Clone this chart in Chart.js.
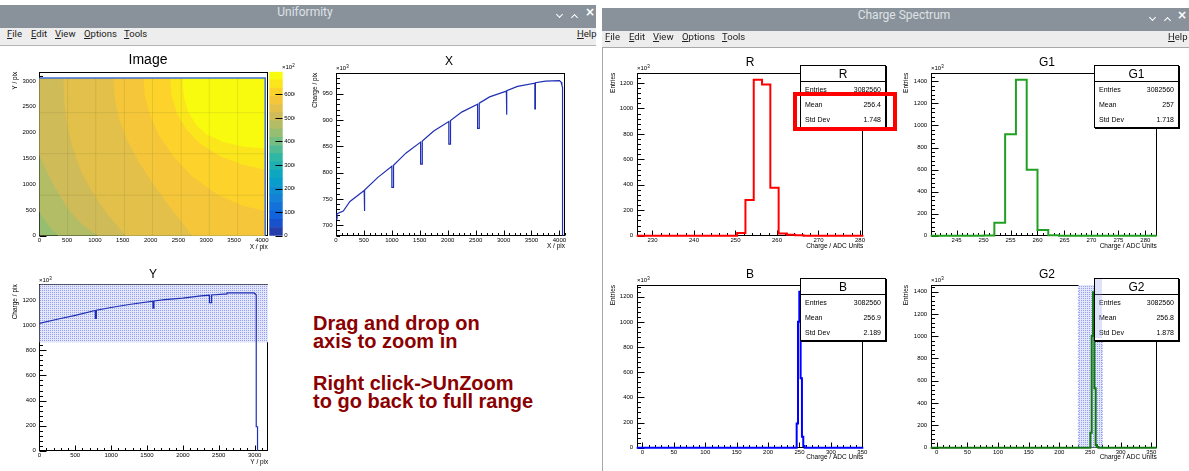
<!DOCTYPE html>
<html>
<head>
<meta charset="utf-8">
<title>Uniformity / Charge Spectrum</title>
<script src="https://cdn.jsdelivr.net/npm/chart.js@4.4.1/dist/chart.umd.min.js"></script>
<style>
  body { margin: 0; width: 1189px; height: 471px; overflow: hidden; background: #fff; position: relative;
         font-family: "Liberation Sans", Arial, sans-serif; }
  canvas { position: absolute; }
  .tb { position: absolute; height: 23px; background: #89929b; }
  .tt { position: absolute; top: 0; line-height: 23px; transform: translateX(-50%); font: 12px Roboto, sans-serif; color: #dfe2e6; white-space: nowrap; }
  .chev { position: absolute; width: 4px; height: 4px; border-right: 1.6px solid #fff; border-bottom: 1.6px solid #fff; }
  .chev.dn { top: 7px; transform: rotate(45deg); }
  .chev.up { top: 10px; transform: rotate(-135deg); }
  .cls { position: absolute; top: 0; line-height: 22px; font: bold 12px "DejaVu Sans", sans-serif; color: #fff; transform: translateX(-50%); }
  .mb { position: absolute; background: #ededed; border-bottom: 1px solid #b4b4b4; }
  .mb span { position: absolute; top: 0; font: 9.5px Roboto, sans-serif; color: #222; }
  .frame { position: absolute; border-left: 1px solid #a8a8a8; border-top: 1px solid #a8a8a8; box-sizing: border-box; }
  .ptitle { position: absolute; transform: translate(-50%, -50%); font-size: 12px; color: #000; white-space: nowrap; z-index: 5; }
  .expo { position: absolute; font-size: 6px; line-height: 6px; z-index: 5; white-space: nowrap; }
  .expo sup { font-size: 4.5px; vertical-align: 2.5px; line-height: 0; }
  .stats { position: absolute; background: #fff; border: 1px solid #000; box-sizing: border-box; z-index: 6;
           box-shadow: 1px 1px 0 #000; }
  .stats .st { height: 16px; line-height: 16px; text-align: center; font-size: 12px; border-bottom: 1px solid #000; box-sizing: border-box; }
  .stats .sr { height: 15px; line-height: 15px; font-size: 7px; display: flex; justify-content: space-between; padding: 0 4px; }
  .note { position: absolute; left: 313px; font: bold 20px/18px "Liberation Sans", Arial, sans-serif; color: #8b0000; white-space: nowrap; z-index: 5; }
</style>
</head>
<body>

<!-- left window -->
<div class="tb" style="left:0;top:5px;width:596px">
  <span class="tt" style="left:305px">Uniformity</span>
  <i class="chev dn" style="left:557px"></i><i class="chev up" style="left:572px"></i><span class="cls" style="left:590px">×</span>
</div>
<div class="mb" style="left:0;top:28px;width:596px;height:17px;line-height:17px">
  <span style="left:7px"><u>F</u>ile</span><span style="left:31px"><u>E</u>dit</span><span style="left:55px"><u>V</u>iew</span>
  <span style="left:84px"><u>O</u>ptions</span><span style="left:124px"><u>T</u>ools</span><span style="left:577px"><u>H</u>elp</span>
</div>

<!-- right window -->
<div class="tb" style="left:602px;top:8px;width:587px">
  <span class="tt" style="left:302px">Charge Spectrum</span>
  <i class="chev dn" style="left:548px"></i><i class="chev up" style="left:563px"></i><span class="cls" style="left:580px">×</span>
</div>
<div class="mb" style="left:602px;top:31px;width:587px;height:16px;line-height:16px">
  <span style="left:3px"><u>F</u>ile</span><span style="left:27px"><u>E</u>dit</span><span style="left:51px"><u>V</u>iew</span>
  <span style="left:80px"><u>O</u>ptions</span><span style="left:120px"><u>T</u>ools</span><span style="left:566px"><u>H</u>elp</span>
</div>
<div class="frame" style="left:602px;top:47px;width:587px;height:424px"></div>

<div class="ptitle" style="left:148px;top:59px;font-size:14px">Image</div>
<div class="ptitle" style="left:449px;top:61px">X</div>
<div class="ptitle" style="left:153px;top:274px">Y</div>
<div class="ptitle" style="left:750px;top:62px">R</div>
<div class="ptitle" style="left:1047px;top:62px">G1</div>
<div class="ptitle" style="left:750px;top:274px">B</div>
<div class="ptitle" style="left:1047px;top:274px">G2</div>

<div class="expo" style="left:282px;top:64px">×10<sup>2</sup></div>
<div class="expo" style="left:336px;top:65px">×10<sup>3</sup></div>
<div class="expo" style="left:39px;top:277px">×10<sup>3</sup></div>
<div class="expo" style="left:637px;top:65px">×10<sup>3</sup></div>
<div class="expo" style="left:931px;top:65px">×10<sup>3</sup></div>
<div class="expo" style="left:637px;top:277px">×10<sup>3</sup></div>
<div class="expo" style="left:931px;top:277px">×10<sup>3</sup></div>

<div class="note" style="top:314px">Drag and drop on<br>axis to zoom in</div>
<div class="note" style="top:374px">Right click-&gt;UnZoom<br>to go back to full range</div>

<script>
const FONT = '"Liberation Sans", Arial, sans-serif';
Chart.defaults.font.family = FONT;

// ---------- Uniformity: image (z in units of 10^2) ----------
const zMax = 6960;
const zTicks = [0, 1000, 2000, 3000, 4000, 5000, 6000];
const imgTicksX = [0, 500, 1000, 1500, 2000, 2500, 3000, 3500, 4000];
const imgTicksY = [0, 500, 1000, 1500, 2000, 2500, 3000];
const sensorW = 4060, sensorH = 3060;
// contour edges; the lowest band (level 12) fills the whole sensor
const band13 = [[0, 470], [60, 360], [130, 250], [230, 120], [340, 0], [4060, 0]];
const band14 = [[0, 1560], [120, 1280], [250, 1000], [400, 720], [550, 470], [800, 190], [1060, 0], [4060, 0]];
const band15 = [[430, 3060], [450, 2600], [500, 2150], [600, 1700], [750, 1250], [950, 850], [1200, 450], [1550, 0], [4060, 0]];
const band16 = [[1330, 3060], [1360, 2650], [1440, 2250], [1580, 1850], [1780, 1450], [2050, 1000], [2350, 550], [2750, 0], [4060, 0]];
const band17 = [[1870, 3060], [1900, 2700], [1990, 2350], [2150, 1950], [2400, 1550], [2750, 1150], [3200, 800], [3650, 580], [4060, 480]];
const band18 = [[2350, 3060], [2380, 2700], [2480, 2350], [2650, 2050], [2900, 1780], [3250, 1540], [3650, 1380], [4060, 1280]];
const band19 = [[2570, 3060], [2600, 2700], [2680, 2400], [2820, 2150], [3000, 1970], [3300, 1820], [3650, 1730], [4060, 1690]];
const bands = [band13, band14, band15, band16, band17, band18, band19];
const bandLevels = [13, 14, 15, 16, 17, 18, 19];
// columns and rows that show up darker in the image
const deadCols = [510, 1015, 1530, 2035, 2550, 3055, 3565];
const deadRows = [786, 1590, 2385];

// ---------- X projection (charge x10^3) ----------
const xProfX = [0, 20, 20, 130, 250, 505, 505, 515, 515, 750, 1000, 1000, 1030, 1030, 1250, 1515, 1515, 1545, 1545, 1750,
                2020, 2020, 2050, 2050, 2250, 2535, 2535, 2565, 2565, 2750, 3050, 3050, 3060, 3060, 3250, 3560, 3560, 3570, 3570,
                3750, 4000, 4030, 4045, 4056, 4056];
const xProfY = [712, 712, 722, 727, 745, 766, 727, 727, 767, 791, 812, 772, 772, 814, 837, 858, 816, 816, 860, 879,
                897, 854, 854, 899, 915, 930, 884, 884, 932, 944, 955, 910, 910, 956, 964, 970, 921, 921, 971,
                974, 975, 972, 966, 962, 680];
const xTicksY = [700, 750, 800, 850, 900, 950];

// ---------- Y projection (charge x10^3) ----------
const yProfX = [0, 250, 500, 780, 780, 795, 795, 1000, 1250, 1583, 1583, 1597, 1597, 1750, 2000, 2250, 2370, 2370, 2400, 2400,
                2615, 2615, 2800, 2990, 3015, 3022, 3022, 3040, 3040];
const yProfY = [1015, 1048, 1079, 1118, 1056, 1056, 1120, 1142, 1166, 1193, 1136, 1136, 1194, 1205, 1217, 1234, 1241, 1181, 1181, 1242,
                1250, 1258, 1259, 1258, 1248, 1240, 191, 191, 0];
const yTicksX = [0, 500, 1000, 1500, 2000, 2500, 3000];
const yTicksY = [0, 200, 400, 600, 800, 1000, 1200];
const ySelLow = 864;

// ---------- Charge spectra (entries x10^3), low edge of each bin ----------
const rEdges   = [226.2, 250.4, 252.4, 254.4, 256.4, 258.4, 260.4, 262.4, 264.4, 266.4, 280.8];
const rCounts  = [0, 22, 280, 1226, 1189, 377, 18, 8, 3, 0, 0];
const g1Edges  = [240.2, 250, 252, 254, 256, 258, 260, 262, 264, 282.1];
const g1Counts = [0, 2, 118, 920, 1415, 599, 51, 5, 0, 0];
const bEdges   = [-9, 245.5, 247.6, 249.7, 251.8, 253.9, 256, 258.1, 351.5];
const bCounts  = [0, 193, 1001, 1240, 551, 87, 13, 0, 0];
const g2Edges  = [-9.8, 250.5, 252.7, 254.9, 257.1, 259.2, 261.4, 263.5, 358.7];
const g2Counts = [0, 135, 1001, 1393, 532, 24, 6, 0, 0];
const g2Sel = [231, 270];
const rTicksX  = [230, 240, 250, 260, 270, 280];
const g1TicksX = [245, 250, 255, 260, 265, 270, 275, 280];
const wideTicksX = [0, 50, 100, 150, 200, 250, 300, 350];
const ticks1200 = [0, 200, 400, 600, 800, 1000, 1200];
const ticks1400 = [0, 200, 400, 600, 800, 1000, 1200, 1400];

const statNames = ['Entries', 'Mean', 'Std Dev'];
const rStats  = ['3082560', '256.4', '1.748'];
const g1Stats = ['3082560', '257', '1.718'];
const bStats  = ['3082560', '256.9', '2.189'];
const g2Stats = ['3082560', '256.8', '1.878'];

// ROOT "bird" palette
function palette(f) {
  const st = [0, .125, .25, .375, .5, .625, .75, .875, 1];
  const r = [.2082, .0592, .0780, .0232, .1802, .5301, .8186, .9956, .9764];
  const g = [.1664, .3599, .5041, .6419, .7178, .7492, .7328, .7862, .9832];
  const b = [.5293, .8684, .8385, .7914, .6425, .4662, .3499, .1968, .0539];
  f = Math.min(1, Math.max(0, f));
  let i = 0;
  while (i < 7 && f > st[i + 1]) i++;
  const t = (f - st[i]) / (st[i + 1] - st[i]);
  const c = a => Math.round(255 * (a[i] + t * (a[i + 1] - a[i])));
  return 'rgb(' + c(r) + ',' + c(g) + ',' + c(b) + ')';
}
const levelColor = k => palette((k + 0.99) / 20);

// light dotted fill used by ROOT for a zoom selection
function dotPattern() {
  const p = document.createElement('canvas');
  p.width = p.height = 2;
  const c = p.getContext('2d');
  c.fillStyle = '#e4e7fb';
  c.fillRect(0, 0, 2, 2);
  c.fillStyle = '#93a0f0';
  c.fillRect(0, 0, 1, 1);
  return c.createPattern(p, 'repeat');
}

// frame + inward ticks, ROOT style
function rootAxes(spec) {
  function draw(chart) {
    const {ctx, chartArea: a, scales} = chart;
    ctx.save();
    ctx.strokeStyle = '#000';
    ctx.lineWidth = 1;
    const L = Math.round(a.left) + 0.5, R = Math.round(a.right) - 0.5;
    const T = Math.round(a.top) + 0.5, B = Math.round(a.bottom) - 0.5;
    if (spec.frame !== false) ctx.strokeRect(L, T, R - L, B - T);
    ctx.beginPath();
    ['x', 'y'].forEach(id => {
      const ax = spec[id];
      if (!ax) return;
      const sc = scales[id];
      let v = ax.ticks[0] - Math.floor((ax.ticks[0] - sc.min) / ax.minor + 1e-9) * ax.minor;
      for (; v <= sc.max + 1e-9; v += ax.minor) {
        if (v < sc.min - 1e-9) continue;
        const major = ax.ticks.some(t => Math.abs(t - v) < ax.minor / 100);
        const len = major ? ax.len : ax.len / 2;
        const p = Math.round(sc.getPixelForValue(v)) + 0.5;
        if (id === 'x') { ctx.moveTo(p, B); ctx.lineTo(p, B - len); }
        else if (ax.side === 'right') { ctx.moveTo(R, p); ctx.lineTo(R - len, p); }
        else { ctx.moveTo(L, p); ctx.lineTo(L + len, p); }
      }
    });
    ctx.stroke();
    ctx.restore();
  }
  return {
    id: 'rootAxes',
    beforeDatasetsDraw(chart) { if (!spec.after) draw(chart); },
    afterDatasetsDraw(chart) { if (spec.after) draw(chart); }
  };
}

function linAxis(pos, min, max, ticks, size, title, tp) {
  const horiz = pos === 'bottom';
  return {
    type: 'linear', position: pos, min, max,
    grid: {display: false, drawTicks: false},
    border: {display: false},
    afterBuildTicks: s => { s.ticks = ticks.map(v => ({value: v})); },
    afterFit: s => {
      if (horiz) s.height = size; else s.width = size;
      s.paddingLeft = s.paddingRight = s.paddingTop = s.paddingBottom = 0;
    },
    ticks: {color: '#000', font: {size: 6}, padding: horiz ? 1 : 3.5, maxRotation: 0, minRotation: 0,
            autoSkip: false, callback: v => String(v)},
    title: {display: !!title, text: title, align: 'end', color: '#000', font: {size: 6.5},
            padding: horiz ? {top: 0, bottom: tp} : {top: tp, bottom: 0}}
  };
}

function newCanvas(box) {
  const cv = document.createElement('canvas');
  cv.width = box.w;
  cv.height = box.h;
  cv.style.left = box.x + 'px';
  cv.style.top = box.y + 'px';
  document.body.insertBefore(cv, document.body.firstChild);
  return cv;
}

function makePad(box, frame, o) {
  const cv = newCanvas(box);
  return new Chart(cv, {
    type: 'line',
    data: {datasets: o.datasets},
    options: {
      responsive: false, animation: false, events: [], devicePixelRatio: 1,
      layout: {padding: {left: 0, top: frame.t - box.y, right: box.x + box.w - frame.r, bottom: 0}},
      plugins: {legend: {display: false}, tooltip: {enabled: false}},
      elements: {point: {radius: 0}, line: {tension: 0}},
      scales: {
        x: linAxis('bottom', o.x[0], o.x[1], o.xt, box.y + box.h - frame.b, o.xTitle, o.xtp),
        y: linAxis('left', o.y[0], o.y[1], o.yt, frame.l - box.x, o.yTitle, o.ytp)
      }
    },
    plugins: [rootAxes(o.axes)]
  });
}

const pts = arr => arr.map(([x, y]) => ({x, y}));
const zip = (xs, ys) => xs.map((x, i) => ({x, y: ys[i]}));
const hist = (edges, counts, color) => ({data: zip(edges, counts), stepped: true, borderColor: color,
  borderWidth: 2, fill: false, clip: 3, order: 0});

// ---------- Image ----------
const heatSets = [{data: pts([[0, 0], [sensorW, 0]]), fill: {value: sensorH}, backgroundColor: levelColor(12),
                   borderColor: 'transparent', borderWidth: 0, order: 100}];
bands.forEach((b, i) => heatSets.push({data: pts(b), fill: {value: sensorH}, backgroundColor: levelColor(bandLevels[i]),
                   borderColor: 'transparent', borderWidth: 0, order: 99 - i}));
deadCols.forEach(x => heatSets.push({data: pts([[x, 0], [x, sensorH]]), borderColor: 'rgba(80,90,40,0.13)', borderWidth: 1, order: 5}));
deadRows.forEach(y => heatSets.push({data: pts([[0, y], [sensorW, y]]), borderColor: 'rgba(80,90,40,0.13)', borderWidth: 1, order: 5}));
heatSets.push({data: pts([[0, sensorH], [sensorW, sensorH], [sensorW, 0]]), borderColor: '#3d6fd8', borderWidth: 1.5, order: 1});

makePad({x: 0, y: 47, w: 270, h: 208}, {l: 39.3, t: 71.7, r: 267.7, b: 235.7}, {
  datasets: heatSets, x: [0, 4105], y: [0, 3180], xt: imgTicksX, yt: imgTicksY,
  xTitle: 'X / pix', xtp: 3.8, yTitle: 'Y / pix', ytp: 11,
  axes: {x: {ticks: imgTicksX, minor: 100, len: 5}, y: {ticks: imgTicksY, minor: 100, len: 7}}
});

// colour bar
(function () {
  const box = {x: 268, y: 47, w: 27, h: 208}, frame = {l: 269.3, t: 71.7, r: 282.7, b: 235.7};
  const cv = newCanvas(box);
  const sets = [];
  for (let k = 0; k < 20; k++) sets.push({data: [zMax / 20], backgroundColor: levelColor(k), borderWidth: 0,
                                          barPercentage: 1, categoryPercentage: 1});
  const yAx = linAxis('right', 0, zMax, zTicks, box.x + box.w - frame.r, '', 0);
  yAx.stacked = true;
  yAx.ticks.padding = 1.5;
  new Chart(cv, {
    type: 'bar',
    data: {labels: [''], datasets: sets},
    options: {
      responsive: false, animation: false, events: [], devicePixelRatio: 1,
      layout: {padding: {left: frame.l - box.x, top: frame.t - box.y, right: 0, bottom: box.y + box.h - frame.b}},
      plugins: {legend: {display: false}, tooltip: {enabled: false}},
      scales: {x: {display: false, stacked: true}, y: yAx}
    },
    plugins: [rootAxes({frame: false, after: true, y: {ticks: zTicks, minor: 1000, len: 7, side: 'right'}})]
  });
})();

// ---------- X projection ----------
makePad({x: 298, y: 47, w: 298, h: 208}, {l: 336, t: 72.7, r: 565, b: 235.7}, {
  datasets: [{data: zip(xProfX, xProfY), borderColor: '#1f2fb3', borderWidth: 1.2, fill: false, clip: 2}],
  x: [0, 4100], y: [680, 990], xt: imgTicksX, yt: xTicksY,
  xTitle: 'X / pix', xtp: 4.4, yTitle: 'Charge / pix', ytp: 13,
  axes: {x: {ticks: imgTicksX, minor: 100, len: 5}, y: {ticks: xTicksY, minor: 10, len: 7}}
});

// ---------- Y projection ----------
makePad({x: 0, y: 258, w: 298, h: 213}, {l: 39.3, t: 284.3, r: 268.3, b: 450.7}, {
  datasets: [
    {data: zip(yProfX, yProfY), borderColor: '#1f2fb3', borderWidth: 1.2, fill: false, clip: 2, order: 0},
    {data: pts([[0, ySelLow], [3190, ySelLow]]), fill: 'end', backgroundColor: dotPattern(), borderColor: 'transparent', borderWidth: 0, order: 10}
  ],
  x: [0, 3190], y: [0, 1327], xt: yTicksX, yt: yTicksY,
  xTitle: 'Y / pix', xtp: 4.8, yTitle: 'Charge / pix', ytp: 11,
  axes: {x: {ticks: yTicksX, minor: 100, len: 5}, y: {ticks: yTicksY, minor: 40, len: 7}}
});

// ---------- Charge spectra ----------
makePad({x: 603, y: 48, w: 292, h: 207}, {l: 636.7, t: 72.7, r: 863.3, b: 235.7}, {
  datasets: [hist(rEdges, rCounts, '#ff0000')],
  x: [226.2, 280.8], y: [0, 1281], xt: rTicksX, yt: ticks1200,
  xTitle: 'Charge / ADC Units', xtp: 4.4, yTitle: 'Entries', ytp: 6.4,
  axes: {x: {ticks: rTicksX, minor: 2, len: 5}, y: {ticks: ticks1200, minor: 40, len: 7}}
});
makePad({x: 897, y: 48, w: 290, h: 207}, {l: 930.7, t: 72.7, r: 1156.7, b: 235.7}, {
  datasets: [hist(g1Edges, g1Counts, '#22a022')],
  x: [240.2, 282.1], y: [0, 1479], xt: g1TicksX, yt: ticks1400,
  xTitle: 'Charge / ADC Units', xtp: 4.4, yTitle: 'Entries', ytp: 5.8,
  axes: {x: {ticks: g1TicksX, minor: 1, len: 5}, y: {ticks: ticks1400, minor: 40, len: 7}}
});
makePad({x: 603, y: 258, w: 292, h: 213}, {l: 636.7, t: 285, r: 863.3, b: 447.7}, {
  datasets: [hist(bEdges, bCounts, '#0000ff')],
  x: [-9, 351.5], y: [0, 1293], xt: wideTicksX, yt: ticks1200,
  xTitle: 'Charge / ADC Units', xtp: 9.8, yTitle: 'Entries', ytp: 6.4,
  axes: {x: {ticks: wideTicksX, minor: 10, len: 5}, y: {ticks: ticks1200, minor: 40, len: 7}}
});
makePad({x: 897, y: 258, w: 290, h: 213}, {l: 930.7, t: 285, r: 1156.7, b: 447.7}, {
  datasets: [
    hist(g2Edges, g2Counts, '#117711'),
    {data: pts([[g2Sel[0], 1459], [g2Sel[1], 1459]]), fill: 'start', backgroundColor: dotPattern(), borderColor: 'transparent', borderWidth: 0, order: 10},
    {data: pts([[g2Sel[0], 0], [g2Sel[0], 1459]]), borderColor: '#6f82ea', borderWidth: 1, borderDash: [1, 2], order: 5},
    {data: pts([[g2Sel[1], 0], [g2Sel[1], 1459]]), borderColor: '#6f82ea', borderWidth: 1, borderDash: [1, 2], order: 5}
  ],
  x: [-9.8, 358.7], y: [0, 1459], xt: wideTicksX, yt: ticks1400,
  xTitle: 'Charge / ADC Units', xtp: 10.1, yTitle: 'Entries', ytp: 5.8,
  axes: {x: {ticks: wideTicksX, minor: 10, len: 5}, y: {ticks: ticks1400, minor: 40, len: 7}}
});

// stats boxes
function statBox(x, y, w, title, vals) {
  const d = document.createElement('div');
  d.className = 'stats';
  d.style.left = x + 'px';
  d.style.top = y + 'px';
  d.style.width = w + 'px';
  d.innerHTML = '<div class="st">' + title + '</div>' +
    statNames.map((n, i) => '<div class="sr"><span>' + n + '</span><span>' + vals[i] + '</span></div>').join('');
  document.body.appendChild(d);
  return d;
}
statBox(800, 65, 86, 'R', rStats);
statBox(1094, 65, 85, 'G1', g1Stats);
statBox(800, 278, 86, 'B', bStats);
statBox(1094, 278, 85, 'G2', g2Stats);

// selection shading that runs over the G2 box
const selOver = document.createElement('div');
Object.assign(selOver.style, {position: 'absolute', left: '1095px', top: '279px', width: '7px', height: '59px',
  background: 'rgba(150,162,240,0.3)', zIndex: 7});
document.body.appendChild(selOver);

// red highlight round Mean / Std Dev of R
const hl = document.createElement('div');
Object.assign(hl.style, {position: 'absolute', left: '793px', top: '92px', width: '104px', height: '39px',
  border: '4px solid #ff0000', boxSizing: 'border-box', zIndex: 8});
document.body.appendChild(hl);
</script>
</body>
</html>
